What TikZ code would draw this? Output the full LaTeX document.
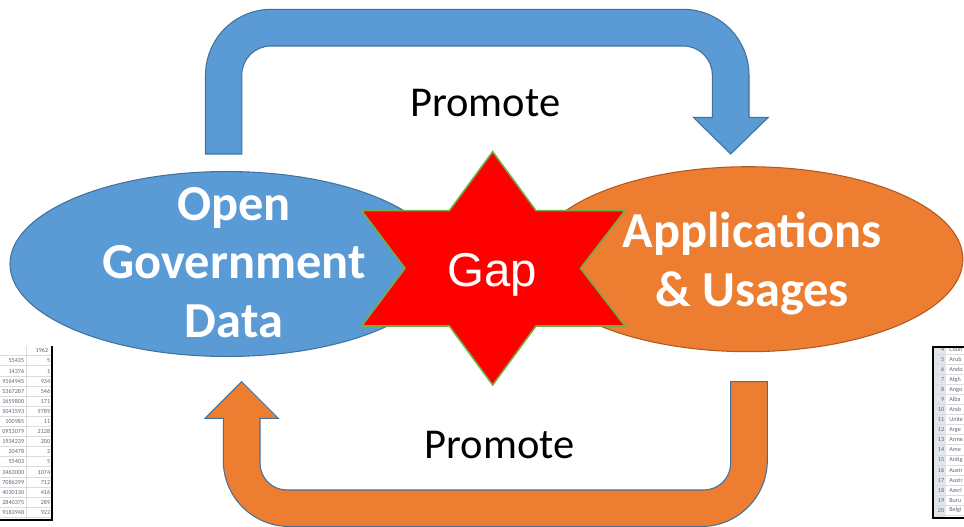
\documentclass[tikz,border=0pt]{standalone}
\usepackage{fontspec}
\setmainfont{Carlito}
\newfontfamily\gapfont{Liberation Sans}
\usetikzlibrary{shapes.geometric}

\definecolor{ogdblue}{HTML}{5B9BD5}
\definecolor{ogdline}{HTML}{41719C}
\definecolor{appsorange}{HTML}{ED7D31}
\definecolor{appsline}{HTML}{AE5A21}
\definecolor{gapgreen}{HTML}{70AD47}
\definecolor{cellgrey}{HTML}{5E6775}
\definecolor{headfill}{HTML}{E2E6EC}
\definecolor{gridgrey}{HTML}{DCDCDC}

\begin{document}
\begin{tikzpicture}[x=0.02cm, y=-0.02cm,
	uturn/.style={draw=ogdline, line width=0.6pt, line join=miter},
	bubble/.style={shape=ellipse, line width=0.6pt, inner sep=0pt, minimum height=3.7cm},
	bubbletext/.style={text=white, align=center, font=\fontsize{28.7}{33.4}\selectfont\bfseries},
	promote/.style={anchor=base, font=\fontsize{24.2}{29}\selectfont},
	cell/.style={inner sep=0pt, text=cellgrey, font=\fontsize{3.5}{4}\selectfont}]
    	\useasboundingbox (0,0) rectangle (964,527);
    	% Promote arrows:
    	\filldraw[uturn, fill=ogdblue] (205.5,154) -- (205.5,75.3) .. controls (205.5,38.8) and (235,9.3) .. (271.5,9.3) -- (683,9.3) .. controls (719.5,9.3) and (749,38.8) .. (749,75.3) -- (749,117.3) -- (768.3,117.3) -- (730.7,154) -- (693.3,117.3) -- (712.3,117.3) -- (712.3,75) .. controls (712.3,59) and (699.3,46) .. (683.3,46) -- (270.8,46) .. controls (254.8,46) and (241.8,59) .. (241.8,75) -- (241.8,154) -- cycle;
    	\filldraw[uturn, fill=appsorange] (767.3,381.7) -- (767.3,460.5) .. controls (767.3,497) and (737.8,526.5) .. (701.3,526.5) -- (289.3,526.5) .. controls (252.8,526.5) and (223.3,497) .. (223.3,460.5) -- (223.3,418.3) -- (205,418.3) -- (241.7,381.7) -- (278.3,418.3) -- (260,418.3) -- (260,463) .. controls (260,478) and (272,490) .. (287,490) -- (703.7,490) .. controls (718.7,490) and (730.7,478) .. (730.7,463) -- (730.7,381.7) -- cycle;
    	\node[promote] (promotetop) at (485.3,116.7) {Promote};
    	\node[promote] (promotebottom) at (499.5,458.3) {Promote};
    	% Ellipses and the gap star:
    	\node[bubble, fill=ogdblue, draw=ogdline, minimum width=8.67cm] (ogd) at (226.7,264) {};
    	\node[bubble, fill=appsorange, draw=appsline, minimum width=8.58cm] (apps) at (748.4,259.2) {};
    	\filldraw[fill=red, draw=gapgreen, line width=0.9pt] (492.7,151.7) -- (536,210.7) -- (625,210.7) -- (580.5,268.3) -- (625,326) -- (536,326) -- (492.7,385) -- (449.4,326) -- (361.7,326) -- (405,268.3) -- (361.7,210.7) -- (449.4,210.7) -- cycle;
    	\node[bubbletext] (ogdlabel) at (234,262.4) {Open\\Government\\Data};
    	\node[bubbletext] (appslabel) at (752,263.4) {Applications\\\& Usages};
    	\node[anchor=base, text=white, font=\gapfont\fontsize{27}{32}\selectfont] (gap) at (492,286.7) {Gap};
    	% Spreadsheet scraps at the edges:
    	\begin{scope}
    		\clip (0,340) rectangle (60,527);
    		\foreach \r in {0,...,16} \draw[gridgrey, line width=0.2pt] (0,{355.5+10.1*\r}) -- (52,{355.5+10.1*\r});
    		\draw[gridgrey, line width=0.2pt] (26,346) -- (26,520);
    		\node[cell, anchor=east] (year) at (48.5,350.5) {1962};
    		\foreach \first/\second [count=\r from 0] in {55435/5, 14376/1, 9164945/934, 5367287/546, 1659800/171, 5041593/9789, 100985/11, 0953079/2128, 1934239/200, 20478/2, 55403/5, 3463000/1074, 7086299/712, 4030130/416, 2840375/289, 9183948/922} {
    			\node[cell, anchor=east] (popa\r) at (24.5,{361+10.1*\r}) {\first};
    			\node[cell, anchor=east] (popb\r) at (50.5,{361+10.1*\r}) {\second};
    		}
    		\draw[line width=1.2pt] (51.7,346) -- (51.7,520.3) -- (0,520.3);
    	\end{scope}
    	\begin{scope}
    		\clip (925,340) rectangle (964,527);
    		\fill[headfill] (933.3,346.7) rectangle (946,518.3);
    		\foreach \name [count=\r from 4] in {Coun, Arub, Ando, Afgh, Ango, Alba, Arab, Unite, Arge, Arme, Ame, Antig, Austr, Austr, Azerl, Buru, Belgi} {
    			\draw[gridgrey, line width=0.2pt] (933.3,{354.3+10.04*(\r-4)}) -- (964,{354.3+10.04*(\r-4)});
    			\node[cell, anchor=east] (rownum\r) at (944.5,{349.6+10.04*(\r-4)}) {\r};
    			\node[cell, anchor=west] (country\r) at (949,{349.6+10.04*(\r-4)}) {\name};
    		}
    		\draw[line width=1.2pt] (964,346.7) -- (933.3,346.7) -- (933.3,518.3) -- (964,518.3);
    	\end{scope}
    \end{tikzpicture}
\end{document}
